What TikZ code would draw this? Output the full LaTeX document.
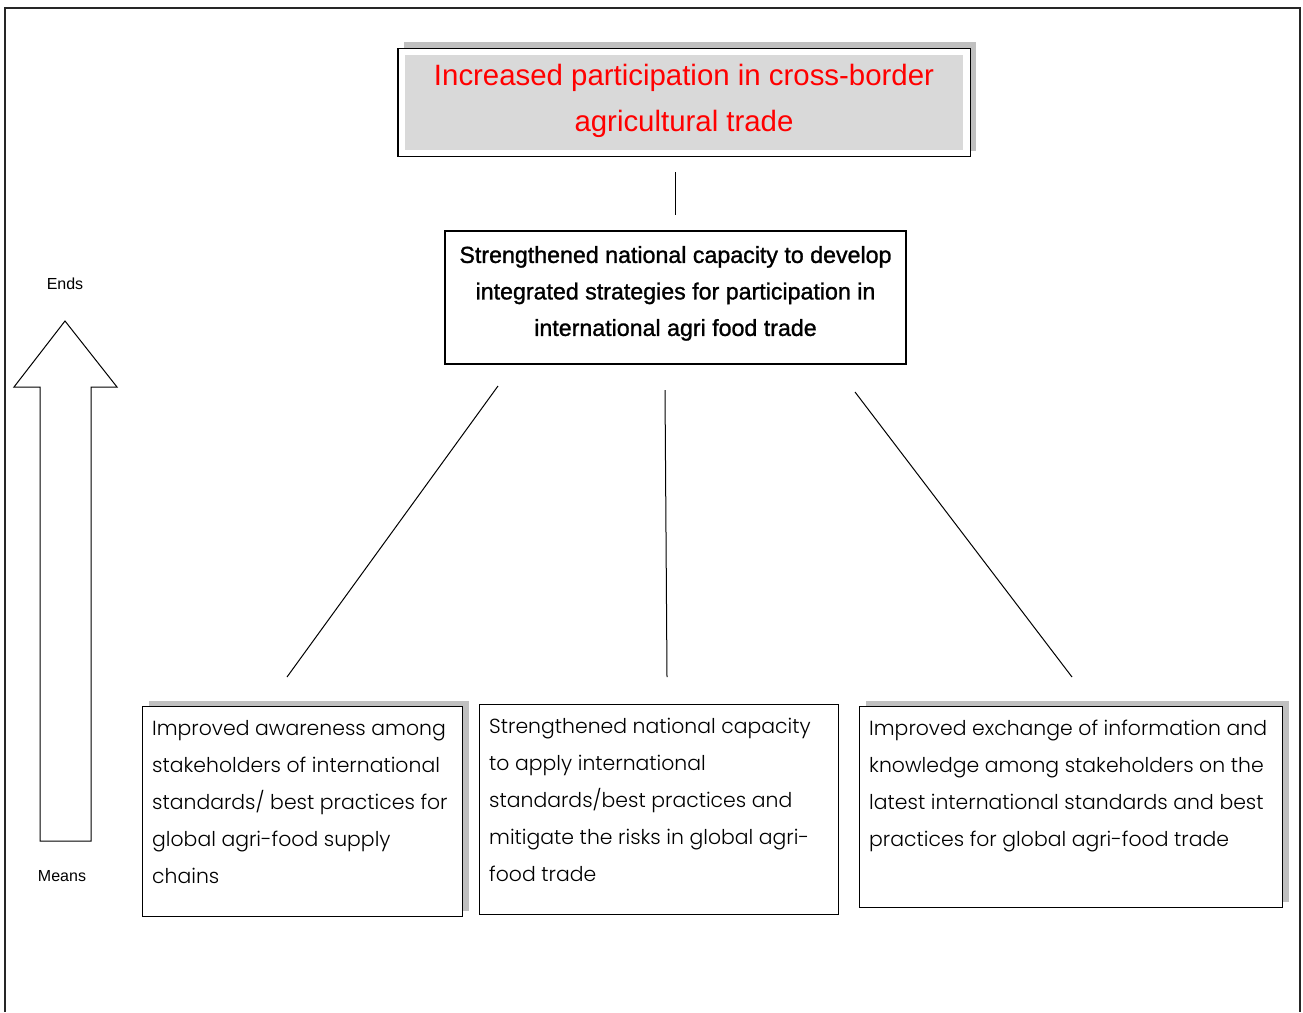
\documentclass[tikz,border=0pt]{standalone}
\usepackage{fontspec}
\setmainfont{Liberation Sans}
\newfontfamily\midfont{Liberation Sans}[FakeBold=1.2]
\IfFontExistsTF{Poppins Light}{\newfontfamily\boxfont{Poppins Light}}{\newfontfamily\boxfont{Poppins}}
\usepackage{tikz}
\usetikzlibrary{positioning,fit,shadows,backgrounds}

\definecolor{boxgray}{RGB}{217,217,217}
\definecolor{shadowgray}{RGB}{192,192,192}

\begin{document}
\begin{tikzpicture}[x=1pt,y=-1pt,
    frame/.style={draw,line width=1.4pt},
    shadowed/.style={drop shadow={shadow xshift=6pt,shadow yshift=6pt,fill=shadowgray,opacity=1}},
    goal node/.style={fill=boxgray,inner sep=0pt,minimum width=558pt,minimum height=95pt,text depth=10pt,
                      align=center,text=red,font=\fontsize{29.4}{46}\selectfont},
    outcome node/.style={frame,fill=white,inner sep=0pt,minimum width=461pt,minimum height=133pt,text depth=13pt,
                      align=center,font=\midfont\fontsize{23.2}{36.5}\selectfont},
    output box/.style={frame,fill=white,inner sep=0pt,anchor=north west},
    output text/.style={anchor=north west,align=left,inner sep=0pt,
                      font=\boxfont\fontsize{20.4}{37}\selectfont},
    side label/.style={font=\fontsize{16}{18}\selectfont},
    link/.style={line width=1pt}]

  \useasboundingbox (0,0) rectangle (1303,1012);
  \draw[line width=1.5pt,black!85] (5,1012) -- (5,8) -- (1300,8) -- (1300,1012);

  % goal and outcome
  \node[goal node] (goal) at (684,102.5) {Increased participation in cross-border\\agricultural trade};
  \begin{scope}[on background layer]
    \node[frame,fill=white,shadowed,fit=(goal),inner xsep=7pt,inner ysep=6.5pt] (goalframe) {};
  \end{scope}
  \node[outcome node] (outcome) at (675.5,297.5) {Strengthened national capacity to develop\\
    integrated strategies for participation in\\international agri food trade};

  % outputs
  \node[output box,shadowed,minimum width=320pt,minimum height=210pt] (aware) at (142,706) {};
  \node[output box,minimum width=359pt,minimum height=210pt] (apply) at (479,704) {};
  \node[output box,shadowed,minimum width=423pt,minimum height=201pt] (exchange) at (859,706) {};

  \node[output text] (aware text) at ([shift={(10,14)}]aware.north west)
    {Improved awareness among\\stakeholders of international\\standards/ best practices for\\
     global agri-food supply\\chains};
  \node[output text] (apply text) at ([shift={(10,14)}]apply.north west)
    {Strengthened national capacity\\to apply international\\standards/best practices and\\
     mitigate the risks in global agri-\\food trade};
  \node[output text] (exchange text) at ([shift={(10,14)}]exchange.north west)
    {Improved exchange of information and\\knowledge among stakeholders on the\\
     latest international standards and best\\practices for global agri-food trade};

  % connectors (free ends)
  \coordinate (goal end) at (675,172);
  \coordinate (outcome top) at (675,215);
  \coordinate (aware up) at (498,386);
  \coordinate (aware down) at (287,677);
  \coordinate (apply up) at (665,390);
  \coordinate (apply down) at (667,677);
  \coordinate (exchange up) at (855,392);
  \coordinate (exchange down) at (1072,677);
  \path[link]
    (goal end) edge (outcome top)
    (aware up) edge (aware down)
    (apply up) edge (apply down)
    (exchange up) edge (exchange down);

  % ends / means arrow
  \draw[line width=1pt] (65,321) -- (117,387) -- (91,387) -- (91,841) -- (40,841)
    -- (40,387) -- (14,387) -- cycle;
  \node[side label] (ends) at (65,284) {Ends};
  \node[side label] (means) at (62,876) {Means};
\end{tikzpicture}
\end{document}
